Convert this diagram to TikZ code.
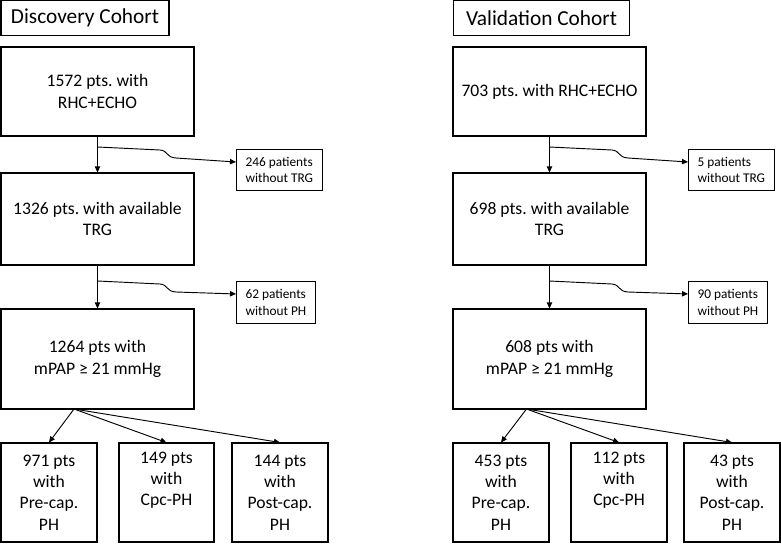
\documentclass[tikz,border=0pt]{standalone}
\usepackage{fontspec}
\setmainfont{Carlito}
\usetikzlibrary{arrows.meta}
\frenchspacing

\begin{document}
\begin{tikzpicture}[x=0.75pt,y=-0.75pt,line width=0.8pt,
    cohort/.style={draw,minimum height=25.9pt,font=\fontsize{16}{19}\selectfont},
    stage/.style={draw,minimum width=144.75pt,align=center,font=\fontsize{13.2}{16.2}\selectfont},
    drop/.style={draw,anchor=west,align=left,minimum height=31.1pt,inner xsep=6.75pt,font=\fontsize{10}{12.5}\selectfont},
    group/.style={draw,minimum width=72pt,minimum height=74.25pt,align=center,font=\fontsize{13.2}{16}\selectfont},
    conn/.style={-{Triangle[length=4.5pt,width=4pt]},line width=0.7pt}
]
\useasboundingbox (0,0) rectangle (781,543);

\node[cohort,minimum width=126pt] (disc) at (85,18) {Discovery Cohort};
\node[stage,minimum height=66.75pt] (rhc1) at (97.5,91.5) {1572 pts. with\\RHC+ECHO};
\node[stage,minimum height=69pt] (trg1) at (97.5,219) {1326 pts. with available\\TRG};
\node[stage,minimum height=75pt] (mpap1) at (97.5,359) {1264 pts with\\mPAP ≥ 21 mmHg};
\node[drop] (notrg1) at (236,170) {246 patients\\without TRG};
\node[drop] (noph1) at (236,302.5) {62 patients\\without PH};
\node[group] (pre1) at (49,492.5) {971 pts\\with\\Pre-cap.\\PH};
\node[group,minimum width=71.25pt] (cpc1) at (166.5,492.5) {149 pts\\with\\Cpc-PH\\\strut};
\node[group] (post1) at (280,492.5) {144 pts\\with\\Post-cap.\\PH};

\node[cohort,minimum width=132pt] (vali) at (541.5,18) {Validation Cohort};
\node[stage,minimum height=66.75pt] (rhc2) at (549.5,91.5) {703 pts. with RHC+ECHO};
\node[stage,minimum height=69pt] (trg2) at (549.5,219) {698 pts. with available\\TRG};
\node[stage,minimum height=75pt] (mpap2) at (549.5,359) {608 pts with\\mPAP ≥ 21 mmHg};
\node[drop] (notrg2) at (688,170) {5 patients\\without TRG};
\node[drop] (noph2) at (688,302.5) {90 patients\\without PH};
\node[group] (pre2) at (501,492.5) {453 pts\\with\\Pre-cap.\\PH};
\node[group] (cpc2) at (619,492.5) {112 pts\\with\\Cpc-PH\\\strut};
\node[group] (post2) at (732,492.5) {43 pts\\with\\Post-cap.\\PH};

\draw[conn] (rhc1) -- (trg1);
\draw[conn] (trg1) -- (mpap1);
\coordinate (br1) at (97.5,147);
\coordinate (br2) at (97.5,281);
\draw[conn] (br1) -- (160,150) .. controls (168,150.5) and (166,157.5) .. (176,158) -- ([yshift=6pt]notrg1.west);
\draw[conn] (br2) -- (160,284) .. controls (168,284.5) and (166,291.5) .. (176,292) -- ([yshift=6.4pt]noph1.west);
\coordinate (fan1) at (74,409);
\draw[conn] (fan1) -- (pre1.north);
\draw[conn] (fan1) -- (cpc1.north);
\draw[conn] (fan1) -- (post1.north);

\draw[conn] (rhc2) -- (trg2);
\draw[conn] (trg2) -- (mpap2);
\coordinate (br3) at (549.5,147);
\coordinate (br4) at (549.5,281);
\draw[conn] (br3) -- (612,150) .. controls (620,150.5) and (618,157.5) .. (628,158) -- ([yshift=6pt]notrg2.west);
\draw[conn] (br4) -- (612,284) .. controls (620,284.5) and (618,291.5) .. (628,292) -- ([yshift=6.4pt]noph2.west);
\coordinate (fan2) at (526.5,409);
\draw[conn] (fan2) -- (pre2.north);
\draw[conn] (fan2) -- (cpc2.north);
\draw[conn] (fan2) -- (post2.north);
\end{tikzpicture}
\end{document}
